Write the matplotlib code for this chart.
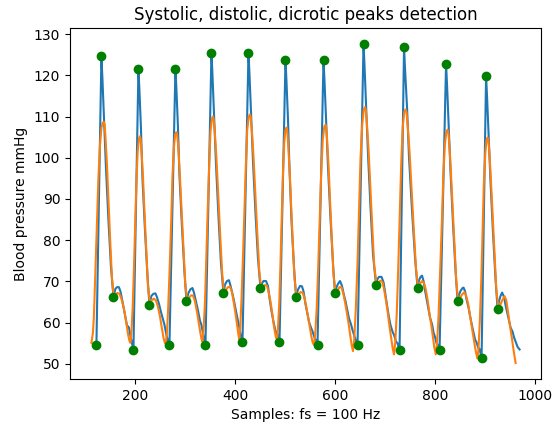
import numpy as np
import matplotlib
matplotlib.use('Agg')
import matplotlib.pyplot as plt

# raw arterial pressure trace (sample index, mmHg)
raw_bp = [
    (123, 54.5), (133, 124.6), (135, 119.3), (138, 110.0), (142, 97.8), (147, 85.0), (152, 73.7),
    (157, 66.2), (161, 68.2), (164, 68.6), (168, 68.6), (171, 67.6), (175, 65.2), (180, 62.0),
    (184, 59.4), (188, 58.8), (191, 56.8), (194, 55.0), (197, 53.3),
    (207, 121.6), (209, 116.4), (212, 107.3), (215, 95.2), (220, 82.6), (225, 71.5),
    (229, 64.3), (233, 66.5), (237, 67.0), (241, 67.1), (244, 66.2), (248, 64.6), (252, 62.6),
    (256, 60.8), (259, 59.5), (263, 57.0), (266, 55.6), (269, 54.5),
    (281, 121.6), (283, 116.5), (286, 107.5), (289, 95.7), (294, 83.3), (299, 72.3),
    (303, 65.3), (307, 67.2), (311, 68.1), (315, 68.4), (318, 67.3), (322, 65.2), (326, 63.0),
    (330, 60.5), (333, 59.4), (337, 56.8), (341, 54.5),
    (353, 125.5), (355, 120.2), (358, 110.9), (362, 98.6), (367, 85.8), (372, 74.4),
    (377, 67.1), (380, 69.2), (384, 70.1), (388, 70.3), (391, 69.0), (395, 67.0), (398, 65.3),
    (402, 62.8), (405, 61.0), (408, 59.3), (411, 57.2), (415, 55.3),
    (427, 125.5), (429, 120.3), (432, 111.2), (436, 99.2), (441, 86.6), (446, 75.5),
    (451, 68.3), (454, 69.5), (457, 70.1), (462, 70.1), (466, 68.9), (469, 66.0), (473, 62.8),
    (477, 60.2), (481, 58.0), (485, 57.2), (487, 56.0), (489, 55.3),
    (501, 123.7), (503, 118.5), (506, 109.3), (509, 97.3), (513, 84.7), (518, 73.5),
    (522, 66.3), (526, 68.0), (530, 68.9), (534, 68.8), (537, 67.6), (541, 64.5), (544, 62.6),
    (548, 60.2), (552, 58.8), (555, 57.9), (559, 56.4), (562, 55.6), (565, 54.5),
    (577, 123.7), (579, 118.6), (582, 109.5), (586, 97.7), (591, 85.2), (596, 74.2),
    (600, 67.1), (603, 68.6), (606, 69.4), (610, 70.1), (614, 68.9), (618, 66.6), (621, 65.2),
    (625, 62.8), (628, 61.0), (632, 59.6), (635, 58.2), (638, 57.0), (641, 55.9), (645, 54.5),
    (657, 127.6), (659, 122.3), (662, 113.0), (666, 100.7), (671, 87.9), (676, 76.5),
    (682, 69.2), (685, 70.6), (688, 71.1), (693, 71.1), (697, 69.8), (700, 67.5), (704, 64.2),
    (708, 61.2), (711, 59.4), (715, 57.8), (718, 57.0), (722, 55.4), (725, 55.0), (729, 53.3),
    (738, 126.8), (740, 121.5), (744, 112.2), (748, 99.9), (754, 87.1), (760, 75.7),
    (765, 68.4), (768, 70.3), (771, 71.1), (774, 71.4), (777, 70.1), (780, 67.8), (784, 65.1),
    (787, 63.2), (790, 61.2), (794, 59.6), (797, 57.6), (800, 56.5), (803, 55.0), (806, 54.6),
    (809, 53.3),
    (822, 122.8), (824, 117.6), (827, 108.4), (831, 96.4), (836, 83.7), (841, 72.5),
    (845, 65.3), (848, 66.8), (851, 67.7), (855, 68.4), (857, 68.5), (860, 67.6), (863, 65.6),
    (867, 63.6), (870, 61.6), (874, 59.2), (877, 57.6), (880, 55.9), (883, 55.2), (886, 54.0),
    (889, 53.6), (893, 51.5),
    (902, 119.8), (904, 114.7), (907, 105.7), (911, 93.8), (916, 81.4), (921, 70.4),
    (925, 63.3), (928, 65.3), (931, 66.5), (934, 67.3), (938, 66.2), (941, 64.2), (945, 62.0),
    (948, 60.4), (951, 58.8), (955, 57.8), (958, 56.4), (961, 55.4), (965, 54.1), (969, 53.5),
]

# low-pass filtered trace
filtered_bp = [
    (113, 55.1), (116, 57.5), (118, 61.5), (121, 72.5), (124, 84.0), (127, 95.0), (130, 102.8),
    (133, 107.2), (135.5, 108.5), (138, 108.7),
    (139.5, 108.0), (141, 105.2), (144, 98.6), (147, 90.0), (150.5, 80.0), (154, 71.0), (157, 67.2),
    (160, 66.6), (165, 67.2), (169, 67.0), (173, 65.8), (178, 63.4), (183, 59.8), (186, 57.3),
    (189, 55.6), (191, 55.1),
    (193, 57.8), (195.5, 63.5), (198, 73.0), (200.5, 84.0), (203, 94.5), (205.5, 101.5),
    (208, 104.6), (210, 105.2),
    (211.5, 104.5), (213, 102.0), (216, 95.6), (219, 87.1), (222.5, 77.9), (226, 69.0), (229.5, 65.2),
    (233, 65.4), (238, 65.8), (242, 65.4), (246, 63.9), (250, 61.5), (254, 58.5), (257, 56.4),
    (259.5, 55.2), (261.5, 54.9),
    (264, 57.5), (266.5, 63.6), (269.5, 73.4), (272.5, 84.6), (275, 95.4), (278, 102.6),
    (280.5, 105.7), (283, 106.2),
    (284.5, 105.5), (286.5, 102.9), (289.5, 96.5), (293, 87.9), (297, 78.6), (300.5, 69.7), (304, 65.6),
    (307, 65.8), (312, 66.6), (316, 66.6), (320, 65.2), (324.5, 62.3), (328, 59.6), (331, 57.4),
    (333, 56.1), (335, 55.4),
    (337, 58.1), (340, 64.7), (342.5, 75.1), (345.5, 87.1), (348.5, 98.5), (351, 106.2),
    (354, 109.5), (356, 110.0),
    (357.5, 109.3), (359.5, 106.6), (363, 99.8), (366.5, 90.9), (370.5, 81.1), (374.5, 71.8), (378, 67.5),
    (381, 67.8), (386, 68.6), (390, 68.7), (394, 67.4), (398, 64.6), (402, 61.4), (405, 58.8),
    (407, 57.0), (408.5, 56.0),
    (410.5, 58.7), (413, 65.4), (416, 75.8), (419, 87.7), (422, 99.1), (424.5, 106.7),
    (427.5, 110.0), (430, 110.5),
    (431.5, 109.8), (433.5, 107.1), (437, 100.4), (440.5, 91.6), (444.5, 82.0), (448.5, 72.7), (452, 68.6),
    (455, 68.6), (460, 69.1), (464, 68.9), (467.5, 67.3), (471, 65.1), (474.5, 62.3), (477.5, 59.5),
    (480, 57.6), (482, 56.4), (484, 56.0),
    (486, 58.6), (488.5, 64.7), (491, 74.5), (493.5, 85.8), (496, 96.5), (498.5, 103.7),
    (501, 106.8), (503, 107.3),
    (504.5, 106.6), (506, 104.0), (509, 97.5), (512, 89.0), (515.5, 79.6), (519, 70.7), (523, 66.6),
    (526, 66.7), (531, 67.4), (535, 67.3), (538.5, 66.2), (542, 64.2), (545.5, 61.9), (549, 59.3),
    (552.5, 56.8), (555.5, 55.1), (558, 54.6),
    (560.5, 57.3), (563.5, 63.7), (566.5, 73.8), (569.5, 85.6), (572.5, 96.8), (575.5, 104.3),
    (578.5, 107.5), (581, 108.0),
    (582.5, 107.3), (584, 104.8), (587, 98.3), (590, 89.7), (593.5, 80.4), (597, 71.5), (601, 67.4),
    (604, 67.6), (609, 68.6), (613, 68.6), (617, 66.8), (621, 64.3), (624.5, 61.8), (628, 59.1),
    (631, 56.4), (633.5, 54.4), (636, 53.1),
    (638.5, 56.1), (641.5, 63.2), (645, 74.4), (648, 87.4), (651, 99.9), (654.5, 108.2),
    (657.5, 111.7), (660, 112.3),
    (661.5, 111.6), (663.5, 108.9), (667, 102.0), (670.5, 93.0), (674.5, 83.1), (678.5, 73.6), (683, 69.4),
    (686, 69.6), (691, 70.2), (695, 69.8), (698.5, 67.8), (702, 65.3), (705.5, 62.4), (709, 59.0),
    (712.5, 56.0), (715.5, 53.6), (718, 52.3),
    (720.5, 55.3), (723.5, 62.4), (726.5, 73.7), (729.5, 86.8), (732.5, 99.2), (735.5, 107.6),
    (738.5, 111.1), (741, 111.7),
    (743, 111.0), (745, 108.3), (749, 101.4), (753, 92.3), (757.5, 82.5), (762, 73.0), (766, 68.7),
    (769, 69.3), (774, 70.1), (778, 69.6), (781.5, 68.0), (785, 65.6), (789, 62.0), (793, 59.0),
    (796, 56.3), (798.5, 54.0), (801.5, 52.3),
    (804, 55.0), (807, 61.6), (810, 71.9), (813.5, 83.9), (816.5, 95.4), (819.5, 103.0),
    (822.5, 106.3), (825, 106.8),
    (826.5, 106.1), (828.5, 103.5), (831.5, 96.9), (835, 88.3), (839, 78.8), (842.5, 69.9), (846, 65.6),
    (849, 65.8), (854, 66.8), (858.5, 67.4), (862, 66.6), (866, 64.7), (870, 61.6), (873.5, 58.8),
    (877, 56.3), (880, 54.0), (882.5, 52.4), (885, 51.3),
    (887, 54.0), (889.5, 60.4), (892.5, 70.6), (895, 82.4), (897.5, 93.6), (900.5, 101.1),
    (903, 104.4), (905, 104.9),
    (906.5, 104.2), (908.5, 101.6), (911.5, 95.0), (915, 86.3), (919, 76.8), (922.5, 67.9), (926, 64.3),
    (930, 64.2), (935, 65.6), (939, 66.4), (942.5, 65.4), (946.5, 62.0), (950, 59.0), (953.5, 56.3),
    (957, 53.3), (961, 50.2),
]

# detected points
systolic_idx = [133, 207, 281, 353, 427, 501, 577, 657, 738, 822, 902]
systolic_val = [124.6, 121.6, 121.6, 125.5, 125.5, 123.7, 123.7, 127.6, 126.8, 122.8, 119.8]
diastolic_idx = [123, 197, 269, 341, 415, 489, 565, 645, 729, 809, 893]
diastolic_val = [54.5, 53.3, 54.5, 54.5, 55.3, 55.3, 54.5, 54.5, 53.3, 53.3, 51.5]
dicrotic_idx = [157, 229, 303, 377, 451, 522, 600, 682, 765, 845, 925]
dicrotic_val = [66.2, 64.3, 65.3, 67.1, 68.3, 66.3, 67.1, 69.2, 68.4, 65.3, 63.3]

raw = np.array(raw_bp)
filt = np.array(filtered_bp)

fig = plt.figure(figsize=(5.59, 4.23), dpi=100)
ax = fig.add_axes([70/559, 1 - 379/423, 471/559, 351/423])
ax.plot(raw[:, 0], raw[:, 1])
ax.plot(filt[:, 0], filt[:, 1])
ax.plot(systolic_idx, systolic_val, 'go')
ax.plot(diastolic_idx, diastolic_val, 'go')
ax.plot(dicrotic_idx, dicrotic_val, 'go')
ax.set_title('Systolic, distolic, dicrotic peaks detection')
ax.set_xlabel('Samples: fs = 100 Hz')
ax.set_ylabel('Blood pressure mmHg')
fig.savefig('out.png', dpi=100)
